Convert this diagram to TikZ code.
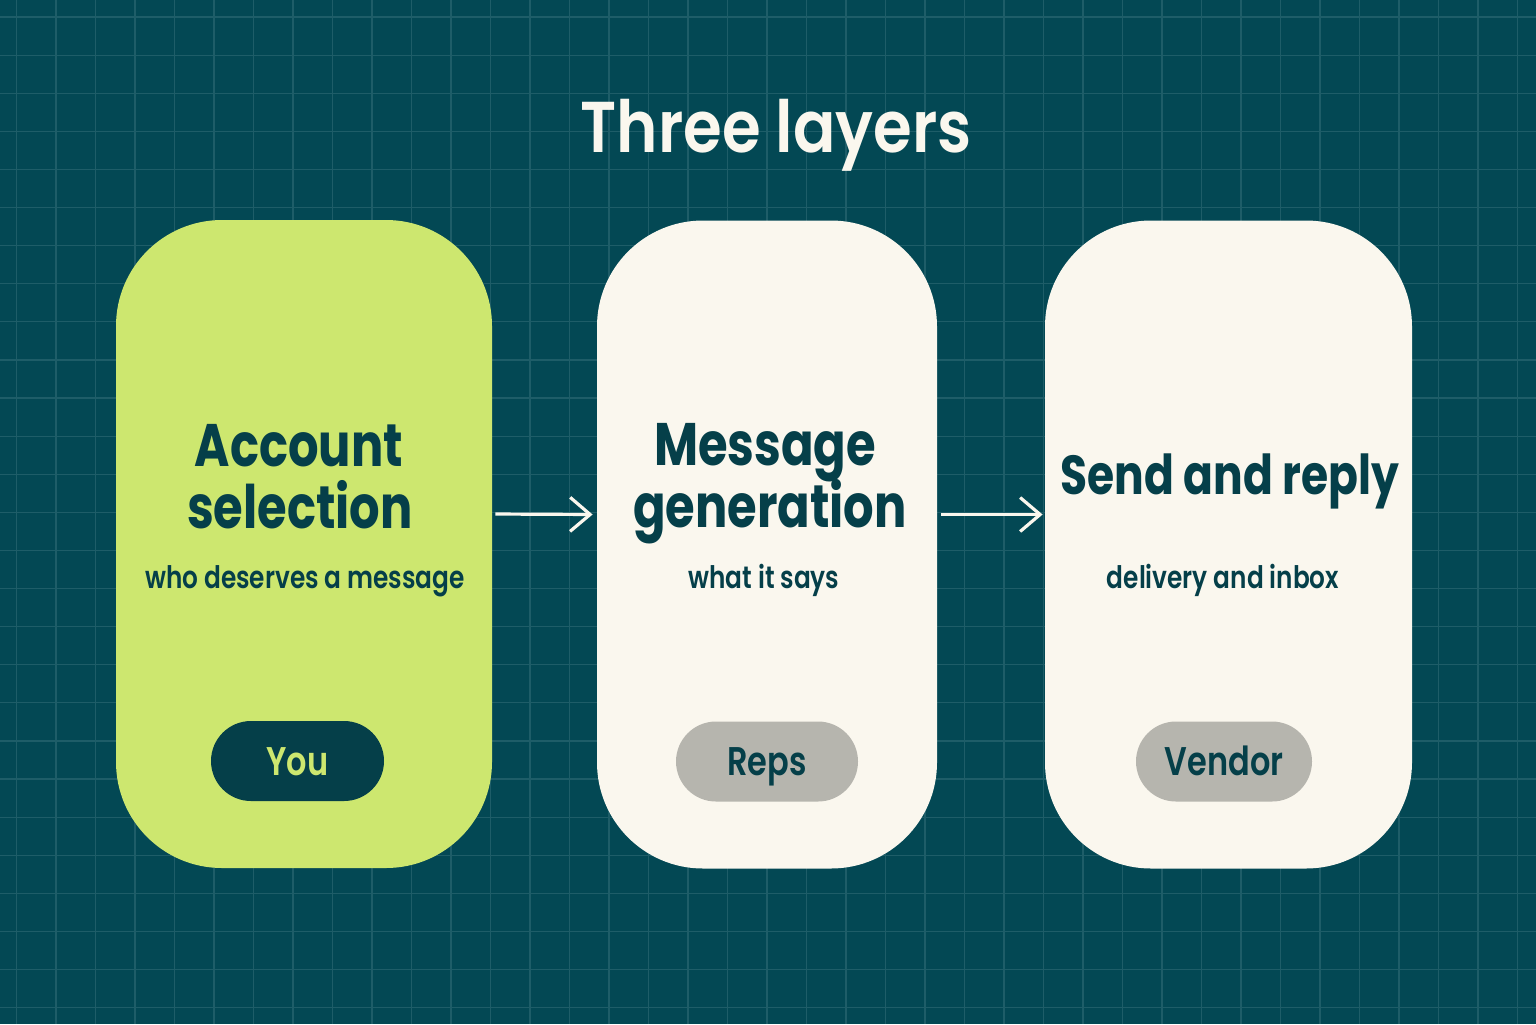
\documentclass[tikz,border=0pt]{standalone}
\usepackage{fontspec}
\setmainfont{Poppins}[UprightFont=* SemiBold, BoldFont=* Bold, FakeStretch=0.8]
\newfontfamily\titlefont{Poppins SemiBold}[FakeStretch=0.87]
\usetikzlibrary{arrows.meta}

\definecolor{bgteal}{HTML}{034854}
\definecolor{gridteal}{HTML}{1E5D68}
\definecolor{lime}{HTML}{CDE76F}
\definecolor{cream}{HTML}{FAF7EE}
\definecolor{ink}{HTML}{053F49}
\definecolor{pillgrey}{HTML}{B6B5AE}

\begin{document}
\begin{tikzpicture}[x=0.5pt, y=-0.5pt,
    card/.style={rectangle, rounded corners=53pt, minimum height=324pt, inner sep=0pt},
    head/.style={anchor=base, text=ink, font=\bfseries\fontsize{30}{30}\selectfont},
    sub/.style={anchor=base, text=ink, font=\fontsize{15.5}{15.5}\selectfont},
    pill/.style={rectangle, rounded corners=20pt, minimum height=40pt, inner sep=0pt,
        text height=14pt, text depth=0pt, font=\fontsize{20}{20}\selectfont},
    flow/.style={-{Straight Barb[length=10pt, width=17pt]}, line width=1.6pt, cream}]
    % Background and grid
    \useasboundingbox (0,0) rectangle (1536,1024);
    \fill[bgteal] (0,0) rectangle (1536,1024);
    \foreach \gx in {0,...,38} \draw[gridteal, line width=0.6pt] ({16.5+39.5*\gx},0) -- ++(0,1024);
    \foreach \gy in {0,...,26} \draw[gridteal, line width=0.6pt] (0,{17+38.1*\gy}) -- ++(1536,0);

    % Title
    \node[anchor=base, text=cream, font=\titlefont\fontsize{36}{36}\selectfont] (title) at (776,152) {Three layers};

    % The three layers
    \node[card, fill=lime, minimum width=188pt] (acct) at (304,544) {};
    \node[card, fill=cream, minimum width=170pt] (msg) at (767,544.5) {};
    \node[card, fill=cream, minimum width=183.5pt] (send) at (1228.5,544.5) {};

    % Headings and subtitles
    \node[head] (acct1) at (299,466) {Account};
    \node[head] (acct2) at (300,528) {selection};
    \node[sub] (acctsub) at (305,588) {who deserves a message};
    \node[head] (msg1) at (765,465) {Message};
    \node[head] (msg2) at (770,527) {generation};
    \node[sub] (msgsub) at (764,588) {what it says};
    \node[head, font=\bfseries\fontsize{27.5}{27.5}\selectfont] (send1) at (1230,494) {Send and reply};
    \node[sub] (sendsub) at (1223,588) {delivery and inbox};

    % Owners
    \node[pill, fill=ink, text=lime, minimum width=86.5pt] (you) at (297.5,761) {You};
    \node[pill, fill=pillgrey, text=ink, minimum width=91pt] (reps) at (767,761.5) {Reps};
    \node[pill, fill=pillgrey, text=ink, minimum width=88pt] (vendor) at (1224,761.5) {Vendor};

    % Arrows between layers
    \draw[flow, shorten <=1.5pt, shorten >=2pt] ([yshift=15pt]acct.east) -- ([yshift=15pt]msg.west);
    \draw[flow, shorten <=2pt, shorten >=1pt] ([yshift=15pt]msg.east) -- ([yshift=15pt]send.west);
\end{tikzpicture}
\end{document}
